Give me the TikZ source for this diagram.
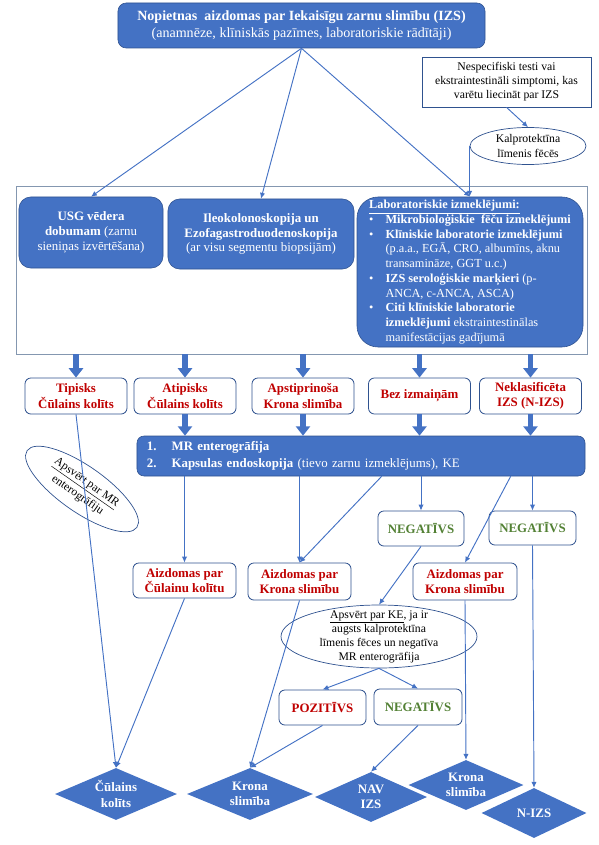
\documentclass[tikz,border=0pt]{standalone}
\usepackage{fontspec}
\setmainfont{Liberation Serif}
\usetikzlibrary{arrows.meta}
\usetikzlibrary{positioning}
\usetikzlibrary{shapes.geometric}
\usetikzlibrary{shadows}
\usetikzlibrary{calc}
\definecolor{izsblue}{HTML}{4472C4}
\definecolor{izsedge}{HTML}{2F528F}
\definecolor{izsframe}{HTML}{8497B0}
\definecolor{izsred}{HTML}{C00000}
\definecolor{izsgreen}{HTML}{538135}
\newcommand{\bul}{\makebox[14pt][l]{\textbullet}}
\newcommand{\ind}{\hspace*{14pt}}
\tikzset{
  wh/.style 2 args = {minimum width={#1*0.3mm}, minimum height={#2*0.3mm}},
  bluebox/.style = {draw=izsedge, line width=0.5pt, fill=izsblue, text=white, rounded corners=4pt, align=center, inner sep=2pt},
  whitebox/.style = {draw=izsedge, line width=0.7pt, fill=white, rounded corners=5pt, align=center, inner sep=2pt, font=\fontsize{11}{13}\selectfont\bfseries},
  redbox/.style = {whitebox, text=izsred},
  greenbox/.style = {whitebox, text=izsgreen},
  note/.style = {ellipse, draw=izsedge, line width=0.6pt, align=center, inner sep=0pt, font=\fontsize{10}{12}\selectfont},
  result/.style = {diamond, fill=izsblue, text=white, aspect=2.4, inner sep=0pt, align=center, font=\fontsize{11}{13}\selectfont\bfseries},
  link/.style = {draw=izsblue, line width=0.8pt, -{Latex[length=5pt,width=4.5pt]}},
  fat/.style = {draw=izsblue, line width=5pt, -{Triangle[length=8pt,width=12pt]}}
}

\begin{document}
\begin{tikzpicture}[x=0.03cm, y=-0.03cm]
  \useasboundingbox (0,0) rectangle (599,845);

  % top of the scheme
  \node[bluebox, wh={367}{45}, rounded corners=7pt, font=\fontsize{12}{14.5}\selectfont] (susp) at (301.5,25.5)
    {\textbf{Nopietnas\ \ aizdomas par Iekaisīgu zarnu slimību (IZS)}\\(anamnēze, klīniskās pazīmes, laboratoriskie rādītāji)};
  \node[draw=izsedge, line width=0.6pt, fill=white, drop shadow={shadow xshift=1.2pt, shadow yshift=-1.2pt, opacity=0.7},
    wh={169}{50}, align=center, font=\fontsize{10}{12}\selectfont] (nonspec) at (506.5,82)
    {Nespecifiski testi vai\\ekstraintestināli simptomi, kas\\varētu liecināt par IZS};
  \node[note, wh={116}{37}, font=\fontsize{10}{12.5}\selectfont] (calpro) at (528,146) {Kalprotektīna\\līmenis fēcēs};

  % first examinations
  \node[draw=izsframe, line width=0.8pt, wh={571}{168}] (frame) at (301.5,270) {};
  \node[bluebox, wh={144}{71}, rounded corners=10pt, font=\fontsize{11}{12.5}\selectfont] (usg) at (91,232.5)
    {\textbf{USG vēdera}\\\textbf{dobumam} (zarnu\\sieniņas izvērtēšana)};
  \node[bluebox, wh={186}{70}, rounded corners=10pt, font=\fontsize{11}{12.5}\selectfont] (ileo) at (261,234)
    {\textbf{Ileokolonoskopija un}\\\textbf{Ezofagastroduodenoskopija}\\(ar visu segmentu biopsijām)};
  \node[bluebox, wh={226}{150}, rounded corners=18pt, align=left, font=\fontsize{10.5}{12.6}\selectfont] (lab) at (470,272)
    {\underline{\textbf{Laboratoriskie izmeklējumi:}}\\
     \bul\textbf{Mikrobioloģiskie\ \ fēču izmeklējumi}\\
     \bul\textbf{Klīniskie laboratorie izmeklējumi}\\
     \ind(p.a.a., EGĀ, CRO, albumīns, aknu\\
     \ind transamināze, GGT u.c.)\\
     \bul\textbf{IZS seroloģiskie marķieri} (p-\\
     \ind ANCA, c-ANCA, ASCA)\\
     \bul\textbf{Citi klīniskie laboratorie}\\
     \ind\textbf{izmeklējumi} ekstraintestinālas\\
     \ind manifestācijas gadījumā};

  \draw[link] (susp.south) -- (usg.north);
  \draw[link] (susp.south) -- (ileo.north);
  \draw[link] (susp.south) -- (lab.north);
  \draw[link] (nonspec.south) -- (calpro.north);
  \draw[link] (calpro.west) -- (calpro.west |- lab.north);

  % findings
  \node[redbox, wh={102}{36}] (tip) at (76,396) {Tipisks\\Čūlains kolīts};
  \node[redbox, wh={102}{36}] (atip) at (185,396) {Atipisks\\Čūlains kolīts};
  \node[redbox, wh={102}{36}] (conf) at (303,396) {Apstiprinoša\\Krona slimība};
  \node[redbox, wh={102}{36}] (none) at (419.5,396) {Bez izmaiņām};
  \node[redbox, wh={102}{36}] (uncl) at (530.5,396) {Neklasificēta\\IZS (N-IZS)};

  \foreach \n in {tip, atip, conf, none, uncl}
    \draw[fat] (frame.south -| \n.north) -- (\n.north);

  \node[bluebox, wh={448}{40}, rounded corners=6pt, align=left, text width={428*0.3mm}, inner xsep={10*0.3mm},
    font=\fontsize{11}{14}\selectfont] (mr) at (361,456)
    {\makebox[21pt][l]{\textbf{1.}}\textbf{MR enterogrāfija}\\
     \makebox[21pt][l]{\textbf{2.}}\textbf{Kapsulas endoskopija} (tievo zarnu izmeklējums), KE};

  \foreach \n in {atip, conf, none, uncl}
    \draw[fat] (\n.south) -- (\n.south |- mr.north);

  \node[note, rotate=-35, wh={134}{46}, font=\fontsize{10}{13.5}\selectfont] (mrnote) at (82,489) {\underline{Apsvērt par MR}\\enterogrāfiju};

  % after MR and KE
  \node[greenbox, wh={86}{35}] (neg1) at (421,528.5) {NEGATĪVS};
  \node[greenbox, wh={87}{34}] (neg2) at (532.5,528) {NEGATĪVS};
  \node[redbox, wh={103}{35}] (aizuc) at (184.5,580.5) {Aizdomas par\\Čūlainu kolītu};
  \node[redbox, wh={103}{37}] (aizcd1) at (299.5,581.5) {Aizdomas par\\Krona slimību};
  \node[redbox, wh={104}{37}] (aizcd2) at (465,581.5) {Aizdomas par\\Krona slimību};

  \draw[link] (mr.south -| aizuc.north) -- (aizuc.north);
  \draw[link] (mr.south -| aizcd1.north) -- (aizcd1.north);
  \draw[link] ($(mr.south west)+(245,0)$) -- (aizcd1.north);
  \draw[link] (mr.south -| neg1.north) -- (neg1.north);
  \draw[link] ($(mr.south west)+(374,0)$) -- (aizcd2.north);
  \draw[link] (mr.south -| neg2.north) -- (neg2.north);

  \node[note, wh={196}{63}, inner ysep=-4.5pt] (kenote) at (379,636.5)
    {\underline{Apsvērt par KE}, ja ir\\augsts kalprotektīna\\līmenis fēces un negatīva\\MR enterogrāfija};
  \node[redbox, wh={87}{35}] (pos) at (322.5,707.5) {POZITĪVS};
  \node[greenbox, wh={88}{36}] (neg3) at (418,707) {NEGATĪVS};

  \draw[link] (neg1.south) -- (kenote.north);
  \draw[link] (kenote.south) -- (pos.north);
  \draw[link] (kenote.south) -- (neg3.north);

  % diagnoses
  \node[result, wh={122}{52}] (duc) at (116,794) {Čūlains\\kolīts};
  \node[result, wh={126}{52}] (dcd1) at (250,794) {Krona\\slimība};
  \node[result, wh={112}{50}] (dnav) at (371,797) {NAV\\IZS};
  \node[result, wh={115}{50}] (dcd2) at (466,785) {Krona\\slimība};
  \node[result, wh={105}{50}] (dnizs) at (534,813) {N-IZS};

  \draw[link] (tip.south) -- (duc.north);
  \draw[link] (aizuc.south) -- (duc.north);
  \draw[link] (aizcd1.south) -- (dcd1.north);
  \draw[link] (pos.south) -- (dcd1.north);
  \draw[link] (neg3.south) -- (dnav.north);
  \draw[link] (aizcd2.south) -- (dcd2.north);
  \draw[link] (neg2.south) -- (dnizs.north);
\end{tikzpicture}
\end{document}
